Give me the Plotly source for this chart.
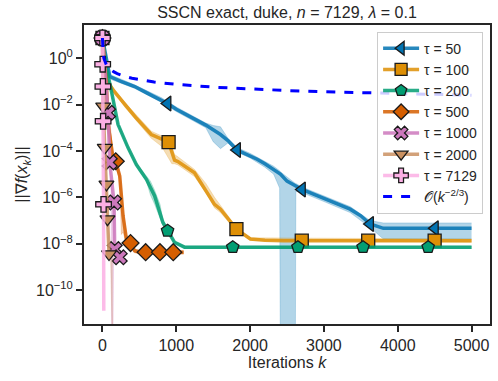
import plotly.graph_objects as go

# ---- data (k = iteration, values = ||grad f(x_k)||) ----
K50 = [0, 100, 250, 436, 600, 797, 882, 1000, 1200, 1400, 1599, 1700, 1824, 2000, 2095, 2200,
       2319, 2410, 2500, 2613, 2703, 2850, 3015, 3200, 3355, 3500, 3626, 3805, 4504, 5000]
G50 = [7.4, 0.16, 0.1, 0.06, 0.032, 0.016, 0.011, 6.3e-3, 2.8e-3, 1.3e-3, 5.1e-4, 2.8e-4, 1.1e-4,
       6.3e-5, 4.4e-5, 2.8e-5, 1.6e-5, 1.0e-5, 5.0e-6, 3.2e-6, 2.2e-6, 1.4e-6, 8.3e-7, 5.0e-7,
       3.1e-7, 1.6e-7, 7.1e-8, 4.6e-8, 4.6e-8, 4.6e-8]
KB50 = [0, 100, 436, 797, 1000, 1200, 1400, 1500, 1599, 1700, 1824, 2000, 2200, 2319, 2400, 2410,
        2613, 2620, 2703, 3015, 3355, 3626, 3805, 5000]
HI50 = [7.4, 0.2, 0.071, 0.02, 7.9e-3, 3.5e-3, 1.6e-3, 1.26e-3, 1.1e-3, 3.5e-4, 1.4e-4, 7.9e-5,
        3.5e-5, 2.2e-5, 1.4e-5, 1.26e-5, 4e-6, 4e-6, 2.8e-6, 1.1e-6, 4e-7, 1e-7, 7.9e-8, 7.9e-8]
LO50 = [7.4, 0.126, 0.05, 0.0126, 5e-3, 2.2e-3, 1e-3, 2.5e-4, 1.26e-4, 2.2e-4, 8.9e-5, 5e-5,
        2e-5, 1e-5, 2.5e-6, 1e-13, 1e-13, 1.8e-6, 1.6e-6, 6.3e-7, 2.2e-7, 5e-8, 1.6e-8, 1.6e-8]
MK50 = [0, 882, 1824, 2703, 3626, 4504]
MG50 = [7.4, 1.1e-2, 1.1e-4, 2.2e-6, 7.1e-8, 4.6e-8]

K100 = [0, 54, 150, 301, 450, 662, 896, 977, 1022, 1247, 1328, 1518, 1599, 1815, 2004, 2200, 2454, 5000]
G100 = [7.4, 0.12, 0.04, 0.01, 2.8e-3, 5.1e-4, 2.4e-4, 4e-5, 3.5e-5, 1.15e-5, 4.4e-6, 5e-7, 3.1e-7,
        4.3e-8, 1.6e-8, 1.4e-8, 1.35e-8, 1.35e-8]
KB100 = [0, 54, 301, 662, 800, 896, 940, 977, 1022, 1247, 1400, 1518, 1599, 1815, 2004, 5000]
HI100 = [7.4, 0.13, 0.0126, 7.1e-4, 4.5e-4, 3.2e-4, 1.6e-4, 7.1e-5, 5.6e-5, 1.6e-5, 4e-6, 1e-6,
         4.5e-7, 5e-8, 1.8e-8, 1.6e-8]
LO100 = [7.4, 0.105, 7.9e-3, 3.5e-4, 1.6e-4, 5e-5, 2.8e-5, 2.8e-5, 2.5e-5, 7.9e-6, 1.6e-6, 3.5e-7,
         2.2e-7, 3.5e-8, 1.4e-8, 1.17e-8]
MK100 = [0, 896, 1815, 2700, 3600, 4500]
MG100 = [7.4, 2.4e-4, 4.3e-8, 1.35e-8, 1.35e-8, 1.35e-8]

K200 = [0, 54, 122, 211, 346, 459, 595, 707, 819, 882, 977, 1112, 5000]
G200 = [7.4, 0.37, 0.037, 1.4e-3, 1.4e-4, 2.6e-5, 6e-6, 1.15e-6, 8.3e-8, 3.6e-8, 1.15e-8, 7.1e-9, 7.1e-9]
KB200 = [0, 54, 211, 346, 459, 595, 650, 707, 780, 819, 882, 977, 1112, 5000]
HI200 = [7.4, 0.4, 1.6e-3, 1.6e-4, 3e-5, 7.9e-6, 5e-6, 2e-6, 5e-7, 1.1e-7, 4.2e-8, 1.26e-8, 7.9e-9, 7.9e-9]
LO200 = [7.4, 0.35, 1.2e-3, 1.2e-4, 2.2e-5, 5e-6, 1.26e-6, 5e-7, 1.26e-7, 6.3e-8, 3.2e-8, 1.05e-8,
         6.3e-9, 6.3e-9]
MK200 = [0, 882, 1765, 2648, 3530, 4412]
MG200 = [7.4, 3.6e-8, 7.1e-9, 7.1e-9, 7.1e-9, 7.1e-9]

K500 = [0, 54, 76, 143, 180, 234, 279, 324, 380, 436, 500, 1100]
G500 = [7.4, 0.07, 1.4e-3, 5.1e-5, 3.6e-5, 8.3e-6, 1.6e-7, 1.6e-8, 1.07e-8, 5e-9, 4.3e-9, 4.3e-9]
KB500 = [0, 54, 143, 234, 256, 279, 324, 380, 436, 1100]
HI500 = [7.4, 0.08, 6.3e-5, 1.1e-5, 3.2e-6, 3.2e-7, 2.5e-8, 1.26e-8, 5.6e-9, 5e-9]
LO500 = [7.4, 0.063, 4e-5, 6.3e-6, 2.5e-8, 3.2e-8, 1e-8, 8.9e-9, 4e-9, 3.5e-9]
MK500 = [0, 180, 380, 585, 779, 959]
MG500 = [7.4, 3.6e-5, 1.07e-8, 4.3e-9, 4.3e-9, 4.3e-9]

K1000 = [0, 40, 76, 99, 130, 157, 166, 200, 240]
G1000 = [7.4, 0.16, 4.4e-3, 3.2e-5, 4e-6, 6e-7, 5.9e-9, 3.5e-9, 2.6e-9]
KB1000 = [0, 40, 76, 99, 115, 125, 140, 157, 166, 240]
HI1000 = [7.4, 0.18, 5e-3, 4e-5, 1e-5, 6.3e-6, 1.26e-6, 8e-7, 7.9e-9, 3.2e-9]
LO1000 = [7.4, 0.14, 3.5e-3, 2.5e-5, 4e-6, 1e-13, 1e-13, 4e-7, 4.5e-9, 2.2e-9]
MK1000 = [0, 76, 99, 157, 166, 234]
MG1000 = [7.4, 4.4e-3, 3.2e-5, 6e-7, 5.9e-9, 2.6e-9]

K2000 = [0, 10, 31, 54, 68, 89, 110, 140]
G2000 = [7.4, 8.3e-3, 1.4e-4, 3.6e-6, 1.15e-7, 3.6e-9, 3.2e-9, 3.2e-9]
KB2000 = [0, 10, 31, 54, 68, 89, 110, 120, 140]
HI2000 = [7.4, 1e-2, 1.8e-4, 5e-6, 1.6e-7, 5e-9, 4e-9, 4e-9, 4e-9]
LO2000 = [7.4, 7e-3, 1.1e-4, 2.5e-6, 8e-8, 2.5e-9, 2e-9, 1e-13, 1e-13]
MK2000 = [0, 10, 31, 54, 68, 89]
MG2000 = [7.4, 8.3e-3, 1.4e-4, 3.6e-6, 1.15e-7, 3.6e-9]

K7129 = [0, 3, 6, 9, 12, 15, 18]
G7129 = [7.4, 0.55, 0.06, 1.9e-3, 3e-5, 5e-7, 1.3e-11]
MK7129 = [0, 3, 6, 9, 15]
MG7129 = [7.4, 0.55, 0.06, 1.9e-3, 5e-7]

# reference rate O(k^{-2/3})
KREF = [0, 2, 5, 10, 20, 35, 50, 75, 100, 150, 200, 300, 400, 700, 1000, 1500, 2000, 2500,
        3000, 3500, 4000, 4500, 5000]
GREF = [7.4, 3.56, 2.24, 1.5, 0.972, 0.679, 0.538, 0.412, 0.341, 0.261, 0.216, 0.165, 0.136,
        0.0938, 0.074, 0.0564, 0.0466, 0.0402, 0.0356, 0.0321, 0.0294, 0.0271, 0.0253]

SERIES = [
    ("τ = 50", "1,115,178", "triangle-left", K50, G50, KB50, LO50, HI50, MK50, MG50),
    ("τ = 100", "222,143,5", "square", K100, G100, KB100, LO100, HI100, MK100, MG100),
    ("τ = 200", "2,158,115", "pentagon", K200, G200, KB200, LO200, HI200, MK200, MG200),
    ("τ = 500", "213,94,0", "diamond", K500, G500, KB500, LO500, HI500, MK500, MG500),
    ("τ = 1000", "204,120,188", "x", K1000, G1000, KB1000, LO1000, HI1000, MK1000, MG1000),
    ("τ = 2000", "202,145,97", "triangle-down", K2000, G2000, KB2000, LO2000, HI2000, MK2000, MG2000),
    ("τ = 7129", "251,175,228", "cross", K7129, G7129, None, None, None, MK7129, MG7129),
]

FONT = "Liberation Sans, Arial, sans-serif"
INK = "#262626"
LW = 3.5
MS = 13

fig = go.Figure()

for name, rgb, sym, k, g, kb, lo, hi, mk, mg in SERIES:
    if kb is not None:
        fig.add_trace(go.Scatter(x=kb, y=lo, mode="lines", line=dict(width=0.6, color=f"rgba({rgb},0.35)"),
                                 showlegend=False, hoverinfo="skip"))
        fig.add_trace(go.Scatter(x=kb, y=hi, mode="lines", line=dict(width=0.6, color=f"rgba({rgb},0.35)"),
                                 fill="tonexty", fillcolor=f"rgba({rgb},0.3)",
                                 showlegend=False, hoverinfo="skip"))
    fig.add_trace(go.Scatter(x=k, y=g, mode="lines", line=dict(width=LW, color=f"rgba({rgb},0.85)"),
                             showlegend=False))
    fig.add_trace(go.Scatter(x=mk, y=mg, mode="markers", showlegend=False,
                             marker=dict(symbol=sym, size=MS, color=f"rgb({rgb})",
                                         line=dict(width=1.3, color="#1a1a1a"))))

# legend entries
for name, rgb, sym, *_ in SERIES:
    fig.add_trace(go.Scatter(x=[None], y=[None], mode="lines+markers", name=name,
                             line=dict(width=LW, color=f"rgba({rgb},0.85)"),
                             marker=dict(symbol=sym, size=12, color=f"rgb({rgb})",
                                         line=dict(width=1.3, color="#1a1a1a"))))

fig.add_trace(go.Scatter(x=KREF, y=GREF, mode="lines", name="𝒪(<i>k</i><sup>−2/3</sup>)",
                         line=dict(width=3, color="#0000ff", dash="dash")))

ytv = [1e-10, 1e-8, 1e-6, 1e-4, 1e-2, 1]
ytt = ["10<sup>−10</sup>", "10<sup>−8</sup>", "10<sup>−6</sup>", "10<sup>−4</sup>",
       "10<sup>−2</sup>", "10<sup>0</sup>"]

axis_common = dict(showline=True, mirror=True, linecolor=INK, linewidth=2, ticks="outside",
                   ticklen=6, tickwidth=2, tickcolor=INK, showgrid=False, zeroline=False,
                   automargin=False, tickfont=dict(size=16, color=INK, family=FONT))

fig.update_layout(
    width=498, height=381,
    margin=dict(l=84, r=8, t=25, b=57),
    plot_bgcolor="white", paper_bgcolor="white",
    font=dict(family=FONT, color=INK, size=16),
    title=dict(text="SSCN exact, duke, <i>n</i> = 7129, <i>λ</i> = 0.1", x=0.5, xref="paper",
               xanchor="center", y=0.968, yanchor="middle", automargin=False,
               font=dict(size=16, color=INK)),
    xaxis=dict(range=[-250, 5250], tickvals=[0, 1000, 2000, 3000, 4000, 5000],
               title=dict(text="Iterations <i>k</i>", font=dict(size=16), standoff=2), **axis_common),
    yaxis=dict(type="log", range=[-11.46, 1.43], tickvals=ytv, ticktext=ytt,
               title=dict(text="||∇<i>f</i>(<i>x<sub>k</sub></i>)||", font=dict(size=16), standoff=4),
               **axis_common),
    legend=dict(x=0.983, y=0.978, xanchor="right", yanchor="top", bgcolor="rgba(255,255,255,0.8)",
                bordercolor="#cccccc", borderwidth=1, font=dict(size=14, color=INK, family=FONT),
                traceorder="normal", tracegroupgap=0, itemwidth=36),
    showlegend=True,
)

fig.write_html("out.html", config={"displayModeBar": False},
               post_script="document.body.style.margin='0';")
